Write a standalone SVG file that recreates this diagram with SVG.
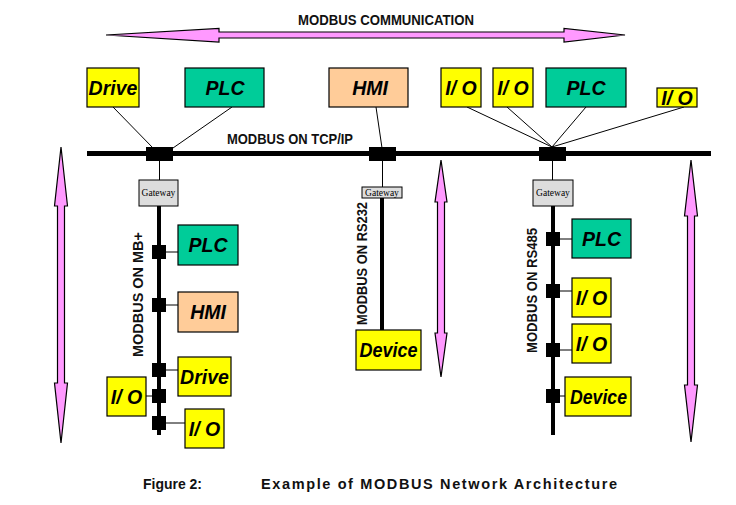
<svg xmlns="http://www.w3.org/2000/svg" width="736" height="505" viewBox="0 0 736 505">
<style>
.bg{fill:#ffffff}
.pink{fill:#FF99FF;stroke:#000;stroke-width:1.2;stroke-linejoin:miter}
.bus{stroke:#000;stroke-width:5;fill:none}
.vbus{stroke:#000;stroke-width:4;fill:none}
.wire{stroke:#000;stroke-width:1;fill:none}
.blk{fill:#000}
.box{stroke:#000;stroke-width:1.2}
.y{fill:#FFFF00}
.g{fill:#00CC99}
.o{fill:#FFCC99}
.gw{fill:#DDDDDD;stroke:#000;stroke-width:1}
.nl{font-family:"Liberation Sans",Arial,sans-serif;font-weight:bold;font-style:italic;font-size:19.5px;fill:#000;text-anchor:middle}
.lbl{font-family:"Liberation Sans",Arial,sans-serif;font-weight:bold;font-size:14px;fill:#111;text-anchor:middle}
.gwt{font-family:"Liberation Serif","Times New Roman",serif;font-size:9.5px;fill:#000;text-anchor:middle}
.cap{font-family:"Liberation Sans",Arial,sans-serif;font-weight:bold;font-size:14.5px;fill:#111}
</style>
<rect class="bg" x="0" y="0" width="736" height="505"/>

<g id="arrows">
  <polygon class="pink" points="106,35 219,28.5 219,32 564,32 564,28.5 625,35 564,42 564,38 219,38 219,42"/>
  <polygon class="pink" points="61,147 67.5,206 64.5,206 64.5,383 67.5,383 61,443 54.5,383 57.5,383 57.5,206 54.5,206"/>
  <polygon class="pink" points="441,160 447,202 444.5,202 444.5,333 447,333 441,377 435,333 437.5,333 437.5,202 435,202"/>
  <polygon class="pink" points="691,160 697.5,216 694.5,216 694.5,385 697.5,385 691,442 684.5,385 687.5,385 687.5,216 684.5,216"/>
</g>

<text class="lbl" x="386" y="25" textLength="176" lengthAdjust="spacingAndGlyphs">MODBUS COMMUNICATION</text>

<g id="connectors">
  <line class="bus" x1="87" y1="153.5" x2="711" y2="153.5"/>
  <line class="wire" x1="113" y1="107" x2="153" y2="148"/>
  <line class="wire" x1="232" y1="107" x2="173" y2="148"/>
  <line class="wire" x1="376" y1="107" x2="382" y2="148"/>
  <line class="wire" x1="467" y1="107" x2="552" y2="147"/>
  <line class="wire" x1="507" y1="107" x2="552" y2="147"/>
  <line class="wire" x1="586" y1="107" x2="552" y2="147"/>
  <line class="wire" x1="684" y1="107" x2="552" y2="147"/>
  <line class="wire" x1="159.5" y1="160" x2="159.5" y2="180"/>
  <line class="wire" x1="382.5" y1="160" x2="382.5" y2="187"/>
  <line class="wire" x1="552.5" y1="160" x2="552.5" y2="180"/>
  <line class="vbus" x1="159" y1="206" x2="159" y2="435"/>
  <line class="vbus" x1="382" y1="198" x2="382" y2="330"/>
  <line class="vbus" x1="553" y1="206" x2="553" y2="435"/>
  <line class="wire" x1="166" y1="252" x2="178" y2="252"/>
  <line class="wire" x1="166" y1="305" x2="178" y2="305"/>
  <line class="wire" x1="166" y1="370" x2="178" y2="370"/>
  <line class="wire" x1="146" y1="396" x2="152" y2="396"/>
  <line class="wire" x1="166" y1="423" x2="185" y2="423"/>
  <line class="wire" x1="560" y1="239" x2="572" y2="239"/>
  <line class="wire" x1="560" y1="291" x2="572" y2="291"/>
  <line class="wire" x1="560" y1="350" x2="572" y2="350"/>
  <line class="wire" x1="560" y1="396" x2="570" y2="396"/>
</g>

<g id="bus-blocks">
  <rect class="blk" x="146" y="147" width="27" height="14"/>
  <rect class="blk" x="369" y="147" width="27" height="14"/>
  <rect class="blk" x="539" y="147" width="27" height="14"/>
  <rect class="blk" x="152" y="245" width="14" height="14"/>
  <rect class="blk" x="152" y="298" width="14" height="14"/>
  <rect class="blk" x="152" y="363" width="14" height="14"/>
  <rect class="blk" x="152" y="389" width="14" height="14"/>
  <rect class="blk" x="152" y="416" width="14" height="14"/>
  <rect class="blk" x="546" y="232" width="14" height="14"/>
  <rect class="blk" x="546" y="284" width="14" height="14"/>
  <rect class="blk" x="546" y="343" width="14" height="14"/>
  <rect class="blk" x="546" y="389" width="14" height="14"/>
</g>

<text class="lbl" x="290" y="143.5" textLength="126" lengthAdjust="spacingAndGlyphs">MODBUS ON TCP/IP</text>

<g id="top-drive"><rect class="box y" x="87" y="68" width="52" height="39"/><text class="nl" x="113" y="94.5">Drive</text></g>
<g id="top-plc"><rect class="box g" x="185" y="68" width="79" height="39"/><text class="nl" x="225" y="94.5">PLC</text></g>
<g id="top-hmi"><rect class="box o" x="329" y="68" width="79" height="39"/><text class="nl" x="370" y="94.5">HMI</text></g>
<g id="top-io1"><rect class="box y" x="441" y="68" width="40" height="39"/><text class="nl" x="461" y="94.5">I/ O</text></g>
<g id="top-io2"><rect class="box y" x="493" y="68" width="40" height="39"/><text class="nl" x="513" y="94.5">I/ O</text></g>
<g id="top-plc2"><rect class="box g" x="546" y="68" width="80" height="39"/><text class="nl" x="586" y="94.5">PLC</text></g>
<g id="top-io3"><rect class="box y" x="657" y="88" width="40" height="19"/><text class="nl" x="677" y="104.5">I/ O</text></g>

<g id="gateway-left"><rect class="gw" x="139" y="180" width="39" height="26"/><text class="gwt" x="158.5" y="196">Gateway</text></g>
<g id="gateway-mid"><rect class="gw" x="362" y="187" width="40" height="11"/><text class="gwt" x="382" y="195.5">Gateway</text></g>
<g id="gateway-right"><rect class="gw" x="533" y="180" width="40" height="26"/><text class="gwt" x="553" y="196">Gateway</text></g>

<text class="lbl" transform="translate(143,294.5) rotate(-90)" x="0" y="0" textLength="125" lengthAdjust="spacingAndGlyphs">MODBUS ON MB+</text>
<text class="lbl" transform="translate(367,263.5) rotate(-90)" x="0" y="0" textLength="123" lengthAdjust="spacingAndGlyphs">MODBUS ON RS232</text>
<text class="lbl" transform="translate(537,290.5) rotate(-90)" x="0" y="0" textLength="125" lengthAdjust="spacingAndGlyphs">MODBUS ON RS485</text>

<g id="mb-plc"><rect class="box g" x="178" y="225" width="60" height="40"/><text class="nl" x="208" y="252">PLC</text></g>
<g id="mb-hmi"><rect class="box o" x="178" y="292" width="60" height="40"/><text class="nl" x="208" y="319">HMI</text></g>
<g id="mb-drive"><rect class="box y" x="178" y="357" width="53" height="39"/><text class="nl" x="204.5" y="383.5">Drive</text></g>
<g id="mb-io-left"><rect class="box y" x="107" y="377" width="39" height="39"/><text class="nl" x="126.5" y="403.5">I/ O</text></g>
<g id="mb-io-bottom"><rect class="box y" x="185" y="409" width="39" height="39"/><text class="nl" x="204.5" y="435.5">I/ O</text></g>

<g id="rs232-device"><rect class="box y" x="356" y="330" width="65" height="40"/><text class="nl" x="388.5" y="357" textLength="58" lengthAdjust="spacingAndGlyphs">Device</text></g>

<g id="rs485-plc"><rect class="box g" x="572" y="219" width="59" height="39"/><text class="nl" x="601.5" y="245.5">PLC</text></g>
<g id="rs485-io1"><rect class="box y" x="572" y="278" width="39" height="39"/><text class="nl" x="591.5" y="304.5">I/ O</text></g>
<g id="rs485-io2"><rect class="box y" x="572" y="324" width="39" height="39"/><text class="nl" x="591.5" y="350.5">I/ O</text></g>
<g id="rs485-device"><rect class="box y" x="565" y="377" width="66" height="39"/><text class="nl" x="598.5" y="403.5" textLength="57" lengthAdjust="spacingAndGlyphs">Device</text></g>

<text class="cap" x="143" y="489" textLength="59" lengthAdjust="spacingAndGlyphs">Figure 2:</text>
<text class="cap" x="261" y="489" textLength="356" lengthAdjust="spacing">Example of MODBUS Network Architecture</text>
</svg>
